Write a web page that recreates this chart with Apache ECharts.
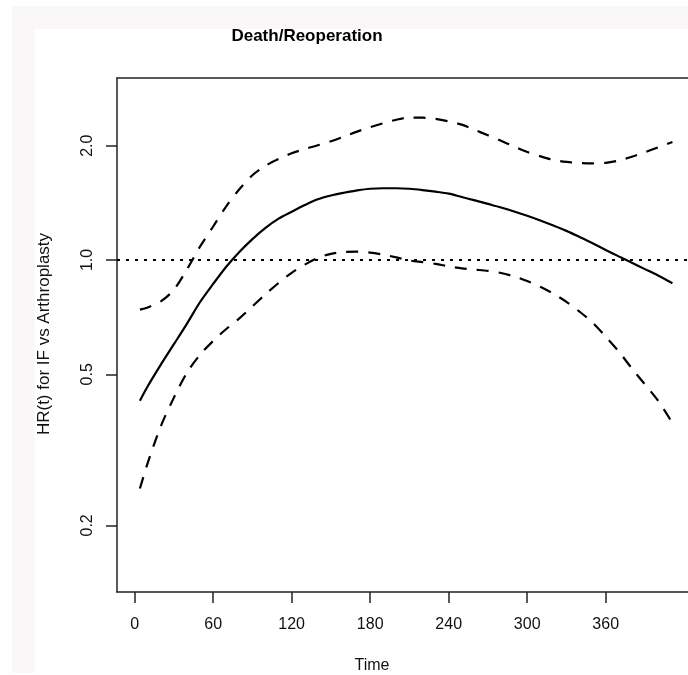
<!DOCTYPE html>
<html>
<head>
<meta charset="utf-8">
<title>Death/Reoperation</title>
<script src="https://cdn.jsdelivr.net/npm/echarts@6/dist/echarts.min.js"></script>
<style>
  html, body { margin: 0; padding: 0; background: #fff; }
  #main { width: 688px; height: 675px; }
</style>
</head>
<body>
<div id="main"></div>
<script>
// time in days
var times = [4, 10, 20, 30, 40, 50, 60, 70, 80, 90, 100, 110, 120, 130, 140, 150, 160, 170, 180, 190,
  200, 210, 220, 230, 240, 250, 260, 270, 280, 290, 300, 310, 320, 330, 340, 350, 360, 370, 380, 390, 400, 411];

// HR(t) estimate
var hr = [0.426, 0.465, 0.530, 0.600, 0.680, 0.775, 0.865, 0.960, 1.050, 1.135, 1.215, 1.285, 1.340, 1.395,
  1.445, 1.478, 1.503, 1.525, 1.540, 1.545, 1.545, 1.540, 1.528, 1.513, 1.495, 1.465, 1.435, 1.405, 1.375,
  1.342, 1.307, 1.270, 1.232, 1.193, 1.150, 1.107, 1.063, 1.022, 0.983, 0.946, 0.910, 0.868];

// upper / lower confidence band
var upper = [0.740, 0.750, 0.778, 0.835, 0.945, 1.085, 1.225, 1.385, 1.535, 1.672, 1.770, 1.845, 1.910, 1.960,
  2.005, 2.055, 2.115, 2.178, 2.238, 2.292, 2.340, 2.372, 2.370, 2.352, 2.318, 2.272, 2.200, 2.130, 2.060,
  1.990, 1.925, 1.875, 1.834, 1.812, 1.800, 1.797, 1.802, 1.828, 1.870, 1.922, 1.980, 2.045];

var lower = [0.250, 0.292, 0.365, 0.434, 0.505, 0.563, 0.612, 0.658, 0.702, 0.755, 0.812, 0.870, 0.925, 0.972,
  1.013, 1.038, 1.050, 1.052, 1.046, 1.033, 1.016, 0.997, 0.987, 0.977, 0.962, 0.950, 0.943, 0.936, 0.924,
  0.905, 0.880, 0.850, 0.815, 0.776, 0.731, 0.684, 0.628, 0.574, 0.518, 0.470, 0.426, 0.372];

var xTicks = [0, 60, 120, 180, 240, 300, 360];
var yTicks = [0.2, 0.5, 1, 2];
var refLevel = 1;

function pairs(xs, ys) {
  return xs.map(function (x, i) { return [x, ys[i]]; });
}

// the plot box runs past the right edge of the picture
var xMin = -13.5, xMax = 422.9;
var font = 'Liberation Sans, Arial, sans-serif';
var ink = '#222';

var chart = echarts.init(document.getElementById('main'));

chart.setOption({
  backgroundColor: '#ffffff',
  animation: false,
  grid: { left: 117, top: 78, right: 0, bottom: 83, show: false },
  xAxis: [
    {
      type: 'value',
      min: xMin,
      max: xMax,
      axisLine: { show: true, onZero: false, lineStyle: { color: ink, width: 1.5 } },
      axisTick: { show: true, length: 11, customValues: xTicks, lineStyle: { color: ink, width: 1.5 } },
      axisLabel: { customValues: xTicks, margin: 25, color: '#111', fontSize: 16, fontFamily: font },
      splitLine: { show: false }
    },
    {
      // top edge of the box
      type: 'value', position: 'top', min: xMin, max: xMax,
      axisLine: { show: true, onZero: false, lineStyle: { color: ink, width: 1.5 } },
      axisTick: { show: false }, axisLabel: { show: false }, splitLine: { show: false }
    }
  ],
  yAxis: {
    type: 'log',
    logBase: 10,
    min: 0.1335,
    max: 3.015,
    axisLine: { show: true, onZero: false, lineStyle: { color: ink, width: 1.5 } },
    axisTick: { show: true, length: 11, customValues: yTicks, lineStyle: { color: ink, width: 1.5 } },
    axisLabel: {
      customValues: yTicks, margin: 21, rotate: 90, color: '#111', fontSize: 16, fontFamily: font,
      formatter: function (v) { return Number(v).toFixed(1); }
    },
    splitLine: { show: false }
  },
  graphic: [
    { type: 'rect', silent: true, z: -10, shape: { x: 12, y: 6, width: 676, height: 23 }, style: { fill: '#f9f7f7' } },
    { type: 'rect', silent: true, z: -10, shape: { x: 12, y: 29, width: 23, height: 644 }, style: { fill: '#f9f7f7' } },
    { type: 'text', x: 307, y: 36, style: { text: 'Death/Reoperation', fontSize: 17, fontWeight: 'bold',
      fontFamily: font, fill: '#000', align: 'center', verticalAlign: 'middle' } },
    { type: 'text', x: 372, y: 666, style: { text: 'Time', fontSize: 16, fontFamily: font,
      fill: '#111', align: 'center', verticalAlign: 'middle' } },
    { type: 'text', x: 44, y: 334, rotation: Math.PI / 2, style: { text: 'HR(t) for IF vs Arthroplasty',
      fontSize: 17, fontFamily: font, fill: '#111', align: 'center', verticalAlign: 'middle' } }
  ],
  series: [
    {
      name: 'HR', type: 'line', data: pairs(times, hr), showSymbol: false, smooth: 0.3,
      lineStyle: { color: '#000', width: 2.2 }
    },
    {
      name: 'upper', type: 'line', data: pairs(times, upper), showSymbol: false, smooth: 0.3,
      lineStyle: { color: '#000', width: 2.2, type: [12, 10] }
    },
    {
      name: 'lower', type: 'line', data: pairs(times, lower), showSymbol: false, smooth: 0.3,
      lineStyle: { color: '#000', width: 2.2, type: [12, 10] }
    },
    {
      name: 'ref', type: 'line', data: [[xMin, refLevel], [xMax, refLevel]], showSymbol: false,
      lineStyle: { color: '#000', width: 2, type: [3, 6] }
    }
  ]
});
</script>
</body>
</html>
